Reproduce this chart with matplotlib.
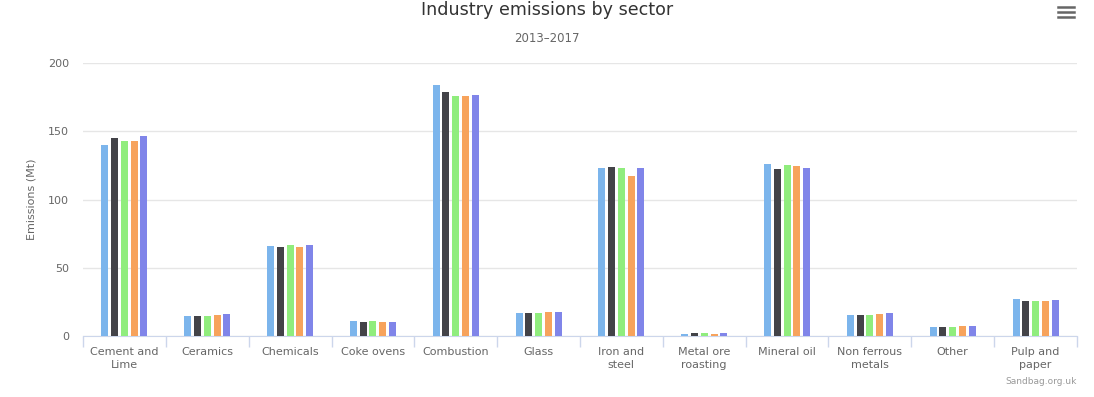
#!/usr/bin/env python3

import matplotlib
matplotlib.use('Agg')
import matplotlib.pyplot as plt
import numpy as np

sectors = ['Cement and\nLime', 'Ceramics', 'Chemicals', 'Coke ovens', 'Combustion',
           'Glass', 'Iron and\nsteel', 'Metal ore\nroasting', 'Mineral oil',
           'Non ferrous\nmetals', 'Other', 'Pulp and\npaper']
years = ['2013', '2014', '2015', '2016', '2017']

e2013 = [140.1, 14.7, 66.0, 11.2, 184.1, 16.9, 123.2, 1.5, 126.1, 15.4, 6.6, 27.1]
e2014 = [145.2, 14.7, 65.3, 10.3, 178.7, 16.9, 124.0, 2.2, 122.7, 15.4, 6.6, 25.7]
e2015 = [143.0, 14.7, 66.7, 11.0, 175.5, 16.9, 123.2, 2.2, 125.4, 15.4, 6.6, 25.7]
e2016 = [143.0, 15.4, 65.3, 10.3, 176.0, 17.6, 117.3, 1.5, 124.7, 16.1, 7.3, 25.7]
e2017 = [146.7, 16.1, 66.7, 10.3, 176.7, 17.6, 123.2, 2.2, 123.2, 16.9, 7.3, 26.4]

colors = ['#7cb5ec', '#434348', '#90ed7d', '#f7a35c', '#8085e9']


def main():
    plt.rcParams['font.family'] = ['DejaVu Sans']
    fig = plt.figure(figsize=(10.94, 3.97), dpi=100)
    ax = fig.add_axes([83 / 1094, 61 / 397, 994 / 1094, 273 / 397])

    x = np.arange(len(sectors))
    pitch = 0.118
    width = 0.085
    for i, (vals, c) in enumerate(zip([e2013, e2014, e2015, e2016, e2017], colors)):
        ax.bar(x + (i - 2) * pitch, vals, width, color=c, label=years[i], zorder=3)

    ax.set_xlim(-0.5, len(sectors) - 0.5)
    ax.set_ylim(0, 200)
    ax.set_yticks([0, 50, 100, 150, 200])
    ax.yaxis.grid(True, color='#e6e6e6', linewidth=1, zorder=0)
    ax.tick_params(axis='y', length=0, pad=10, labelsize=8, labelcolor='#666666')

    ax.set_xticks(x)
    ax.set_xticklabels(sectors, fontsize=8, color='#666666', linespacing=1.3)
    ax.set_xticks(np.arange(-0.5, len(sectors)), minor=True)
    ax.tick_params(axis='x', which='major', length=0, pad=8)
    ax.tick_params(axis='x', which='minor', length=8, color='#ccd6eb', width=1)

    for s in ['top', 'right', 'left']:
        ax.spines[s].set_visible(False)
    ax.spines['bottom'].set_color('#ccd6eb')

    ax.set_ylabel('Emissions (Mt)', fontsize=8, color='#666666', labelpad=8)

    fig.text(547 / 1094, 1 - 10 / 397, 'Industry emissions by sector',
             ha='center', va='center', fontsize=12.6, color='#333333')
    fig.text(547 / 1094, 1 - 39 / 397, '2013\u20132017', ha='center', va='center',
             fontsize=8.5, color='#666666')
    fig.text(1077 / 1094, 1 - 382 / 397, 'Sandbag.org.uk', ha='right', va='center',
             fontsize=6.5, color='#999999')

    # hamburger menu icon
    for yy in [6.7, 12.3, 17.3]:
        fig.add_artist(plt.Line2D([1058 / 1094, 1074 / 1094],
                                  [1 - yy / 397, 1 - yy / 397],
                                  color='#666666', linewidth=1.8))

    fig.savefig('out.png', dpi=100)


if __name__ == '__main__':
    main()
